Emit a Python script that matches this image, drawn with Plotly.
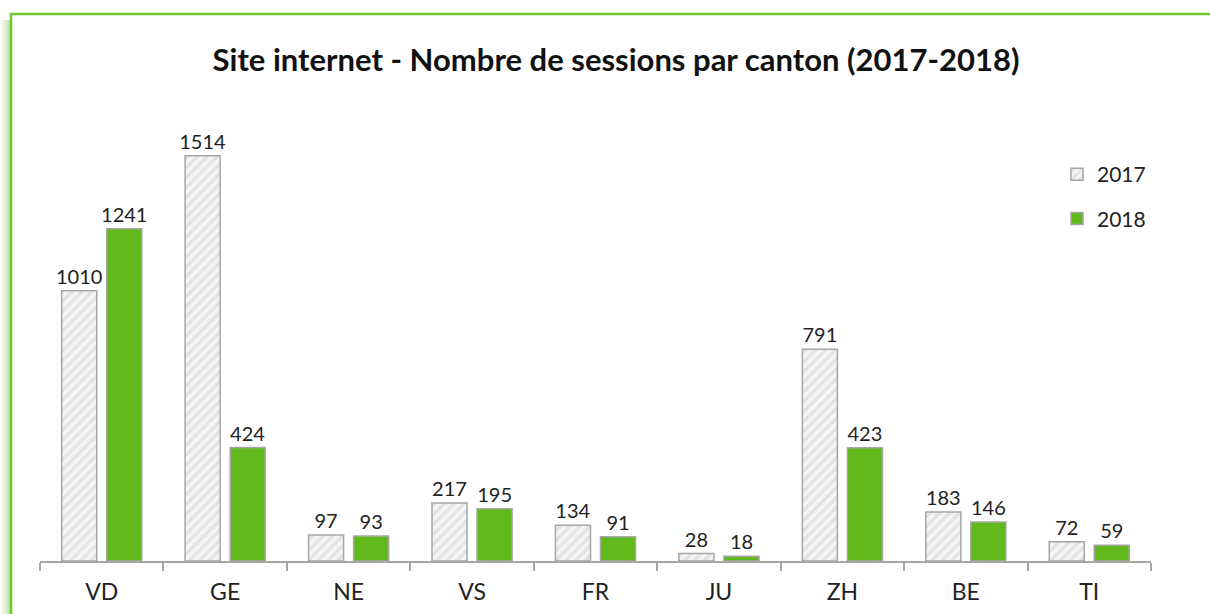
import plotly.graph_objects as go

categories = ["VD", "GE", "NE", "VS", "FR", "JU", "ZH", "BE", "TI"]
sessions_2017 = [1010, 1514, 97, 217, 134, 28, 791, 183, 72]
sessions_2018 = [1241, 424, 93, 195, 91, 18, 423, 146, 59]
title_text = "Site internet - Nombre de sessions par canton (2017-2018)"

FONT = "Lato, 'Noto Sans', sans-serif"
GREEN = "#61B91C"
GRAY_LINE = "#A6A6A6"

fig = go.Figure()
fig.add_trace(go.Bar(
    name="2017", x=categories, y=sessions_2017,
    text=sessions_2017, textposition="outside", constraintext="none",
    textfont=dict(size=20, color="#222"),
    marker=dict(color="white",
                pattern=dict(shape="/", fgcolor="#CFCFCF", bgcolor="#F4F4F4", size=7, solidity=0.45),
                line=dict(color=GRAY_LINE, width=1.5)),
    legendgroup="a", cliponaxis=False,
))
fig.add_trace(go.Bar(
    name="2018", x=categories, y=sessions_2018,
    text=sessions_2018, textposition="outside", constraintext="none",
    textfont=dict(size=20, color="#222"),
    marker=dict(color=GREEN, line=dict(color=GRAY_LINE, width=1.5)),
    legendgroup="b", cliponaxis=False,
))

L, R, T, B = 40, 59, 106, 53
W, H = 1210, 614
pw, ph = W - L - R, H - T - B

def px(x):
    return (x - L) / pw

def py(y):
    return (H - B - y) / ph

shapes = []
# soft shadow on the left of the frame
for i, c in enumerate(["#F3FAEE", "#E6F4DB", "#D5EDC4", "#C2E4AA"]):
    shapes.append(dict(type="line", xref="paper", yref="paper",
                       x0=px(2 + i * 2.2), x1=px(2 + i * 2.2), y0=py(20), y1=py(640),
                       line=dict(color=c, width=2.5)))
shapes.append(dict(type="rect", xref="paper", yref="paper",
                   x0=px(11), x1=px(1225), y0=py(640), y1=py(14),
                   line=dict(color="#6CC72F", width=2.5), fillcolor="rgba(0,0,0,0)"))

fig.update_layout(
    width=W, height=H,
    margin=dict(l=L, r=R, t=T, b=B, autoexpand=False),
    paper_bgcolor="white", plot_bgcolor="white",
    font=dict(family=FONT, color="#222"),
    title=dict(text="<b>" + title_text + "</b>", x=px(616), xanchor="center",
               xref="paper", y=1 - 60 / H, yanchor="middle",
               font=dict(size=31, color="#111", family=FONT)),
    barmode="group", bargap=0.27, bargroupgap=0.222,
    showlegend=True,
    legend=dict(x=px(1057), y=py(154), xanchor="left", yanchor="top",
                font=dict(size=21, color="#222"), tracegroupgap=14,
                bgcolor="rgba(0,0,0,0)", itemwidth=30),
    xaxis=dict(showline=True, linecolor=GRAY_LINE, linewidth=1.5,
               ticks="outside", ticklen=8, tickcolor=GRAY_LINE, tickwidth=1.5,
               tickson="boundaries", ticklabelstandoff=10, automargin=False,
               tickfont=dict(size=23, color="#222")),
    yaxis=dict(visible=False, range=[0, 1700], showgrid=False),
    shapes=shapes,
)

fig.write_html("out.html", config={"displayModeBar": False},
               post_script="document.body.style.margin='0';")
